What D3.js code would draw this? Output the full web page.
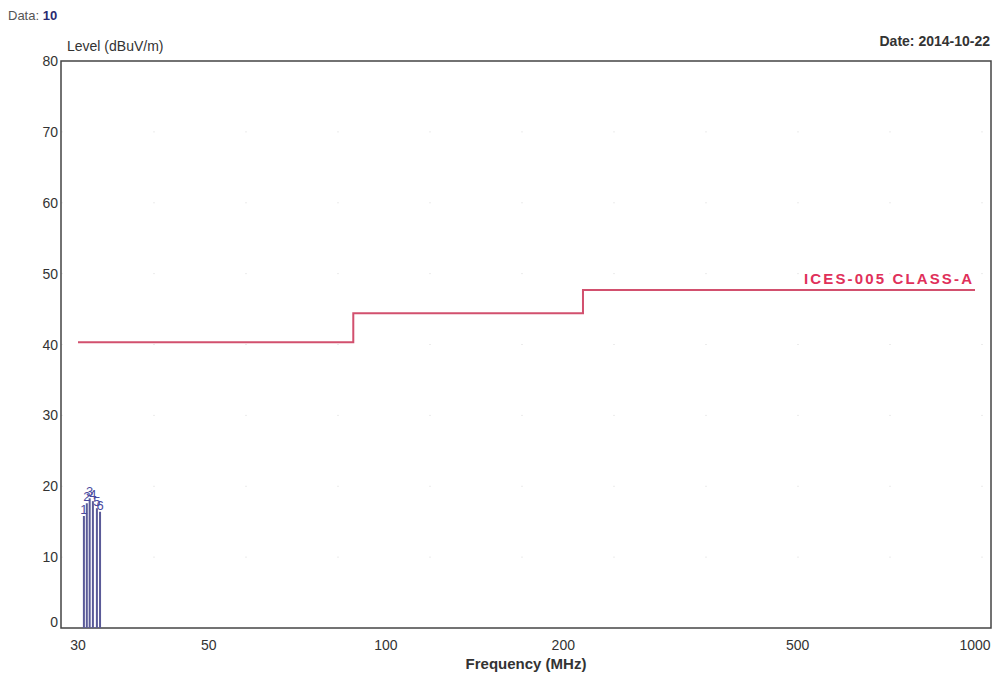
<!DOCTYPE html>
<html>
<head>
<meta charset="utf-8">
<script src="https://cdn.jsdelivr.net/npm/d3@7"></script>
<style>
  body { margin: 0; background: #fff; }
  text { font-family: "Liberation Sans", Arial, sans-serif; }
</style>
</head>
<body>
<div id="chart"></div>
<script>
var w = 1000;
var h = 680;

// tick labels
var xTicks = [30, 50, 100, 200, 500, 1000];
var yTicks = [0, 10, 20, 30, 40, 50, 60, 70, 80];

// limit line (ICES-005 Class A), step edges in MHz and level in dBuV/m
var limitFreq = [30, 88, 88, 216, 216, 1000];
var limitLevel = [40.3, 40.3, 44.4, 44.4, 47.7, 47.7];

// measured peaks
var peakNo = [1, 2, 3, 4, 5, 6];
var peakFreq = [30.7, 31.05, 31.4, 31.8, 32.3, 32.7];
var peakLevel = [15.8, 17.6, 18.3, 17.9, 16.9, 16.4];

// plot frame (note: "top" is reserved on window, so prefix these)
var frameLeft = 61, frameTop = 61, frameRight = 991, frameBottom = 628;

var svg = d3.select("#chart")
            .append("svg")
            .attr("width", w)
            .attr("height", h);

var xScale = d3.scaleLog()
               .domain([30, 1000])
               .range([78, 975]);

var yScale = d3.scaleLinear()
               .domain([0, 80])
               .range([frameBottom, frameTop]);

// faint dotted grid
svg.selectAll("line.gy")
   .data(yTicks.slice(1, -1))
   .enter()
   .append("line")
   .attr("x1", frameLeft).attr("x2", frameRight)
   .attr("y1", function(d) { return yScale(d); })
   .attr("y2", function(d) { return yScale(d); })
   .attr("stroke", "#ececec")
   .attr("stroke-dasharray", "2,90");

// frame
svg.append("rect")
   .attr("x", frameLeft)
   .attr("y", frameTop)
   .attr("width", frameRight - frameLeft)
   .attr("height", frameBottom - frameTop)
   .attr("fill", "none")
   .attr("stroke", "#444")
   .attr("stroke-width", 1.5);

// y tick labels
svg.selectAll("text.yt")
   .data(yTicks)
   .enter()
   .append("text")
   .attr("x", frameLeft - 3)
   .attr("y", function(d) { return yScale(d) + (d === 0 ? -1 : 5); })
   .attr("text-anchor", "end")
   .attr("font-size", 14)
   .attr("fill", "#333")
   .text(function(d) { return d; });

// x tick labels
svg.selectAll("text.xt")
   .data(xTicks)
   .enter()
   .append("text")
   .attr("x", function(d) { return xScale(d); })
   .attr("y", frameBottom + 22)
   .attr("text-anchor", "middle")
   .attr("font-size", 14)
   .attr("fill", "#333")
   .text(function(d) { return d; });

// titles
svg.append("text")
   .attr("x", 8).attr("y", 20)
   .attr("font-size", 13)
   .attr("fill", "#555")
   .text("Data: ")
   .append("tspan")
   .attr("fill", "#2a2a70")
   .attr("font-weight", "bold")
   .text("10");

svg.append("text")
   .attr("x", 67).attr("y", 51)
   .attr("font-size", 14)
   .attr("fill", "#333")
   .text("Level (dBuV/m)");

svg.append("text")
   .attr("x", 990).attr("y", 46)
   .attr("text-anchor", "end")
   .attr("font-size", 14)
   .attr("font-weight", "bold")
   .attr("fill", "#333")
   .text("Date: 2014-10-22");

svg.append("text")
   .attr("x", 526).attr("y", 669)
   .attr("text-anchor", "middle")
   .attr("font-size", 15)
   .attr("font-weight", "bold")
   .attr("fill", "#333")
   .text("Frequency (MHz)");

// limit line
var limitPts = limitFreq.map(function(f, i) { return [f, limitLevel[i]]; });
var line = d3.line()
             .x(function(d) { return xScale(d[0]); })
             .y(function(d) { return yScale(d[1]); });

svg.append("path")
   .attr("d", line(limitPts))
   .attr("fill", "none")
   .attr("stroke", "#d2506e")
   .attr("stroke-width", 2);

svg.append("text")
   .attr("x", xScale(1000) - 3)
   .attr("y", yScale(47.7) - 6)
   .attr("text-anchor", "end")
   .attr("font-size", 15)
   .attr("font-weight", "bold")
   .attr("fill", "#e0305a")
   .attr("textLength", 168)
   .text("ICES-005 CLASS-A");

// peak bars
svg.selectAll("line.peak")
   .data(peakNo)
   .enter()
   .append("line")
   .attr("x1", function(d, i) { return xScale(peakFreq[i]); })
   .attr("x2", function(d, i) { return xScale(peakFreq[i]); })
   .attr("y1", yScale(0))
   .attr("y2", function(d, i) { return yScale(peakLevel[i]); })
   .attr("stroke", "#5a5a98")
   .attr("stroke-width", 2);

// peak markers (they crowd together, as in the original plot)
svg.selectAll("text.pk")
   .data(peakNo)
   .enter()
   .append("text")
   .attr("x", function(d, i) { return xScale(peakFreq[i]); })
   .attr("y", function(d, i) { return yScale(peakLevel[i]) - 2; })
   .attr("text-anchor", "middle")
   .attr("font-size", 13)
   .attr("fill", "#4a4aa0")
   .text(function(d) { return d; });
</script>
</body>
</html>
